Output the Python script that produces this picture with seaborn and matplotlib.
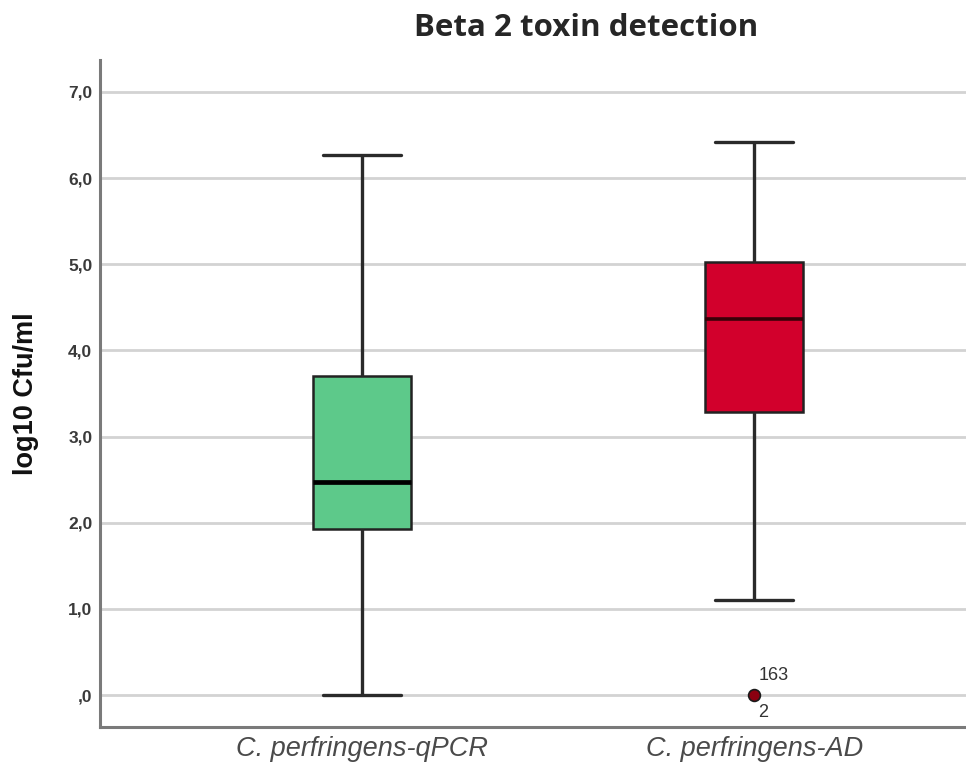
import matplotlib
matplotlib.use("Agg")
import matplotlib.pyplot as plt
import seaborn as sns
import pandas as pd

# Data (five-number summaries; AD group has an outlier at 0)
categories = ["C. perfringens-qPCR", "C. perfringens-AD"]
qpcr_values = [0.0, 1.93, 2.47, 3.70, 6.27]
ad_values = [0.0, 1.10, 3.28, 3.28, 4.36, 5.03, 5.03, 6.42, 6.42]
box_colors = ["#5DC98A", "#D2002C"]
median_colors = ["#000000", "#3a0008"]
y_ticks = [0, 1, 2, 3, 4, 5, 6, 7]
y_tick_labels = [",0", "1,0", "2,0", "3,0", "4,0", "5,0", "6,0", "7,0"]
outlier_labels = ["163", "2"]

df = pd.DataFrame({
    "group": [categories[0]] * len(qpcr_values) + [categories[1]] * len(ad_values),
    "value": qpcr_values + ad_values,
})

sns.set_style("white")
plt.rcParams["font.family"] = ["Liberation Sans", "DejaVu Sans"]

fig = plt.figure(figsize=(9.66, 7.72), dpi=100)
ax = fig.add_axes([100 / 966, 1 - 727 / 772, 1 - 100 / 966, (727 - 60) / 772])

sns.boxplot(
    data=df, x="group", y="value", hue="group", order=categories,
    palette=dict(zip(categories, box_colors)), legend=False, saturation=1,
    width=0.25, whis=1.5, ax=ax,
    linewidth=2.2, linecolor="#222222",
    boxprops=dict(edgecolor="#222222", linewidth=1.8),
    whiskerprops=dict(color="#2a2a2a", linewidth=2.4),
    capprops=dict(color="#2a2a2a", linewidth=2.4),
    medianprops=dict(color="#000000", linewidth=3.4),
    flierprops=dict(marker="o", markerfacecolor="#8B0010", markeredgecolor="#1a1a1a",
                    markersize=8.5, markeredgewidth=1.2),
    capwidths=0.2,
)

# per-box median styling
med_lines = [l for l in ax.lines if len(l.get_ydata()) == 2
             and l.get_ydata()[0] == l.get_ydata()[1]
             and abs((l.get_xdata()[1] - l.get_xdata()[0]) - 0.25) < 1e-6]
for line, c in zip(sorted(med_lines, key=lambda l: l.get_xdata()[0]), median_colors):
    line.set_color(c)
    if c != "#000000":
        line.set_linewidth(2.6)

ax.set_xlim(-0.668, 1.54)
ax.set_ylim(-0.37, 7.37)
ax.set_yticks(y_ticks)
ax.set_yticklabels(y_tick_labels, fontsize=12.5, fontweight="bold", color="#3a3a3a")
ax.set_xticks(range(len(categories)))
ax.set_xticklabels(categories, fontsize=19.5, style="italic", color="#4a4a4a")
ax.tick_params(axis="y", length=0, pad=5.5)
ax.tick_params(axis="x", length=0, pad=6.5)
ax.yaxis.grid(True, color="#d3d3d3", linewidth=2)
ax.xaxis.grid(False)
ax.set_axisbelow(True)
for s in ["top", "right"]:
    ax.spines[s].set_visible(False)
for s in ["left", "bottom"]:
    ax.spines[s].set_color("#7a7a7a")
    ax.spines[s].set_linewidth(2.2)
ax.set_xlabel("")
ax.set_ylabel("log10 Cfu/ml", fontsize=19.5, fontweight="bold", color="#111111")
ax.yaxis.set_label_coords(-0.071, 0.5)

# outlier case labels
ax.text(1.01, 0.23, outlier_labels[0], fontsize=13, color="#333333", ha="left", va="center")
ax.text(1.01, -0.2, outlier_labels[1], fontsize=13, color="#333333", ha="left", va="center")

fig.text(586 / 966, 1 - 28 / 772, "Beta 2 toxin detection", fontsize=22.5, fontweight="bold",
         ha="center", va="center", family=["Open Sans", "DejaVu Sans"])

fig.savefig("out.png", dpi=100)
